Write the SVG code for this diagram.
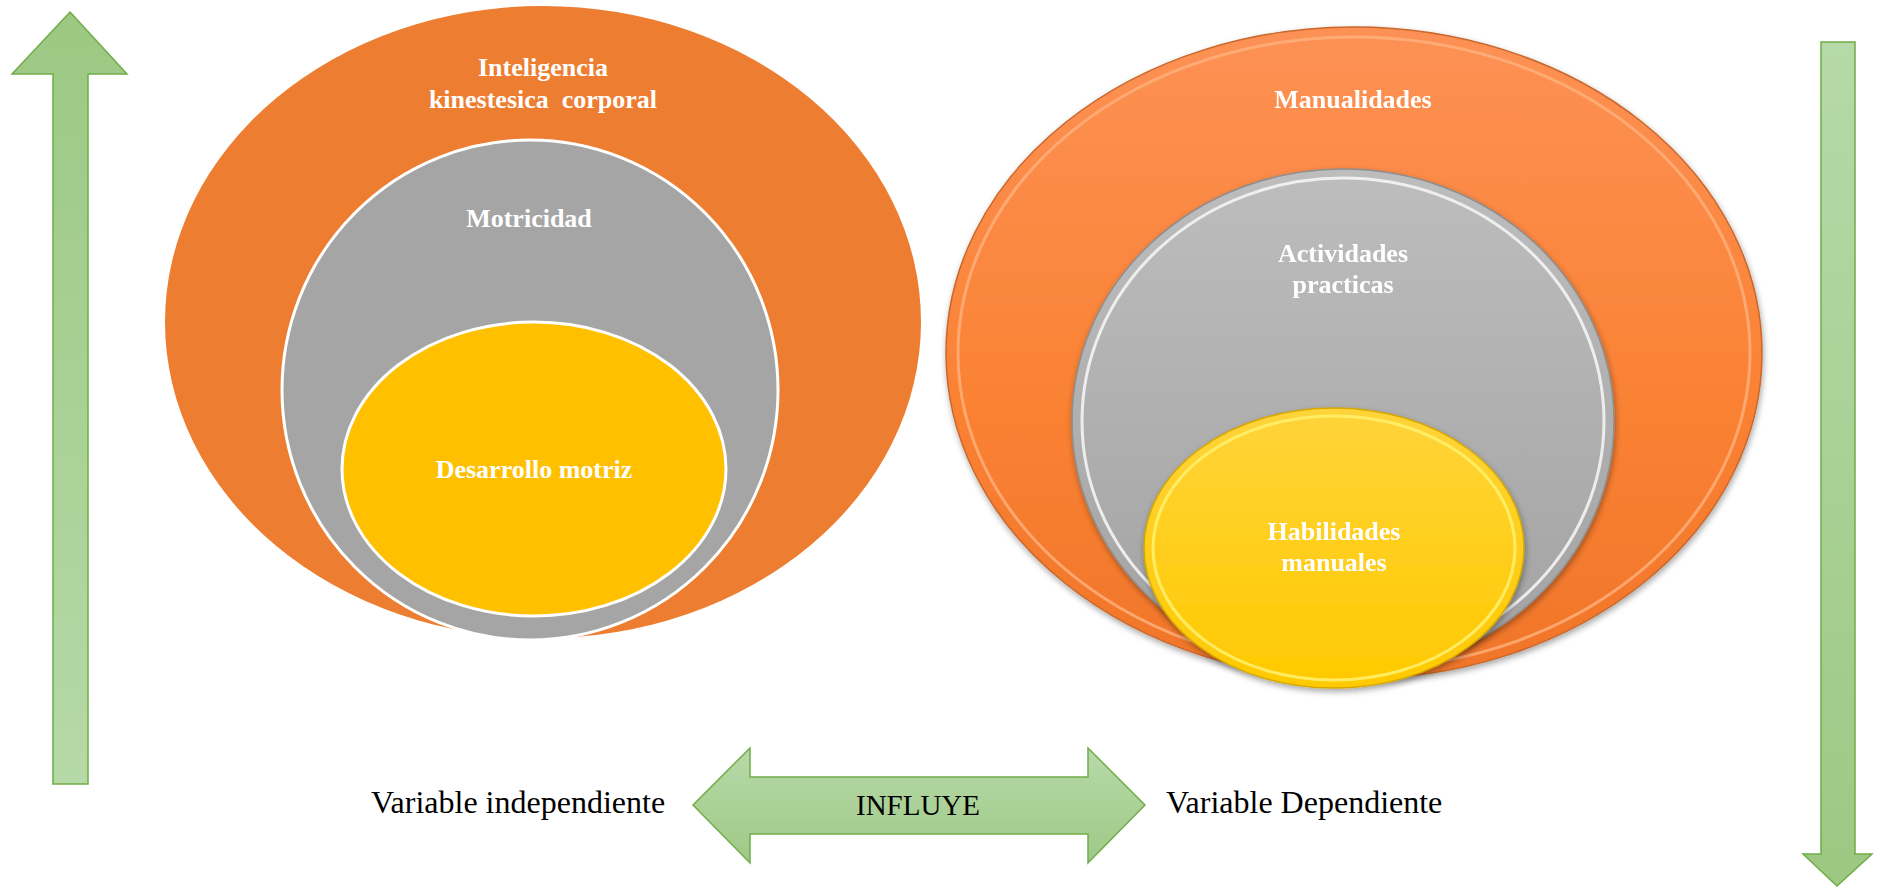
<svg xmlns="http://www.w3.org/2000/svg" width="1885" height="887" viewBox="0 0 1885 887">
<defs>
<linearGradient id="gUp" x1="0" y1="0" x2="0" y2="1"><stop offset="0" stop-color="#9cc883"/><stop offset="1" stop-color="#b6d9a8"/></linearGradient>
<linearGradient id="gDown" x1="0" y1="0" x2="0" y2="1"><stop offset="0" stop-color="#b6d9a8"/><stop offset="1" stop-color="#9cc883"/></linearGradient>
<linearGradient id="gH" x1="0" y1="0" x2="0" y2="1"><stop offset="0" stop-color="#b7d9a9"/><stop offset="1" stop-color="#9fc987"/></linearGradient>
<linearGradient id="gOr" x1="0" y1="0" x2="0" y2="1"><stop offset="0" stop-color="#fd9155"/><stop offset="0.6" stop-color="#fa8132"/><stop offset="1" stop-color="#f0752a"/></linearGradient>
<linearGradient id="gGr" x1="0" y1="0" x2="0" y2="1"><stop offset="0" stop-color="#bdbdbd"/><stop offset="1" stop-color="#a2a2a2"/></linearGradient>
<linearGradient id="gYe" x1="0" y1="0" x2="0" y2="1"><stop offset="0" stop-color="#ffd43a"/><stop offset="1" stop-color="#ffc900"/></linearGradient>
<filter id="sh" x="-10%" y="-10%" width="120%" height="120%"><feGaussianBlur in="SourceAlpha" stdDeviation="3"/><feOffset dx="1" dy="3"/><feComponentTransfer><feFuncA type="linear" slope="0.35"/></feComponentTransfer><feMerge><feMergeNode/><feMergeNode in="SourceGraphic"/></feMerge></filter>
</defs>
<style>
.lbl{font-family:"Liberation Serif","Times New Roman",serif;font-weight:bold;font-size:26px;fill:#ffffff;text-anchor:middle}
.txt{font-family:"Liberation Serif","Times New Roman",serif;font-size:32px;fill:#000000}
.arr{stroke:#70ad47;stroke-width:1.5}
</style>

<g id="arrow-up">
<polygon class="arr" fill="url(#gUp)" points="70,12 127,74 88,74 88,784 53,784 53,74 12,74"/>
</g>
<g id="arrow-down">
<polygon class="arr" fill="url(#gDown)" points="1821,42 1855,42 1855,854 1872,854 1837,886 1803,854 1821,854"/>
</g>

<g id="left-outer">
<ellipse cx="543" cy="322" rx="378" ry="316" fill="#ed7d31"/>
<text class="lbl" x="543" y="76">Inteligencia</text>
<text class="lbl" x="543" y="108" xml:space="preserve">kinestesica  corporal</text>
</g>
<g id="left-middle">
<ellipse cx="530" cy="390" rx="248" ry="250" fill="#a5a5a5" stroke="#ffffff" stroke-width="3"/>
<text class="lbl" x="529" y="227">Motricidad</text>
</g>
<g id="left-inner">
<ellipse cx="534" cy="469" rx="192" ry="147" fill="#ffc000" stroke="#ffffff" stroke-width="3"/>
<text class="lbl" x="534" y="478">Desarrollo motriz</text>
</g>

<g id="right-outer" filter="url(#sh)">
<ellipse cx="1354" cy="353" rx="408" ry="326" fill="url(#gOr)" stroke="#c9672a" stroke-width="1.5"/>
<ellipse cx="1354" cy="353" rx="396" ry="316" fill="none" stroke="#ffb27e" stroke-width="3" opacity="0.8"/>
<text class="lbl" x="1353" y="108">Manualidades</text>
</g>
<g id="right-middle" filter="url(#sh)">
<ellipse cx="1343" cy="421" rx="271" ry="252" fill="url(#gGr)" stroke="#8e8e8e" stroke-width="1.5"/>
<ellipse cx="1343" cy="421" rx="261" ry="243" fill="none" stroke="#f4f4f4" stroke-width="3" opacity="0.9"/>
<text class="lbl" x="1343" y="262">Actividades</text>
<text class="lbl" x="1343" y="293">practicas</text>
</g>
<g id="right-inner" filter="url(#sh)">
<ellipse cx="1334" cy="548" rx="190" ry="140" fill="url(#gYe)" stroke="#d6a800" stroke-width="1.5"/>
<ellipse cx="1334" cy="548" rx="181" ry="132" fill="none" stroke="#fff06a" stroke-width="3" opacity="0.9"/>
<text class="lbl" x="1334" y="540">Habilidades</text>
<text class="lbl" x="1334" y="571">manuales</text>
</g>

<g id="connectors">
<g id="influye">
<polygon class="arr" fill="url(#gH)" points="693,805 750,748 750,777 1088,777 1088,748 1145,805 1088,863 1088,834 750,834 750,863"/>
<text x="918" y="815" text-anchor="middle" style="font-family:'Liberation Serif','Times New Roman',serif;font-size:29px;fill:#000">INFLUYE</text>
</g>
</g>

<g id="var-indep"><text class="txt" x="371" y="813">Variable independiente</text></g>
<g id="var-dep"><text class="txt" x="1166" y="813">Variable Dependiente</text></g>
</svg>
